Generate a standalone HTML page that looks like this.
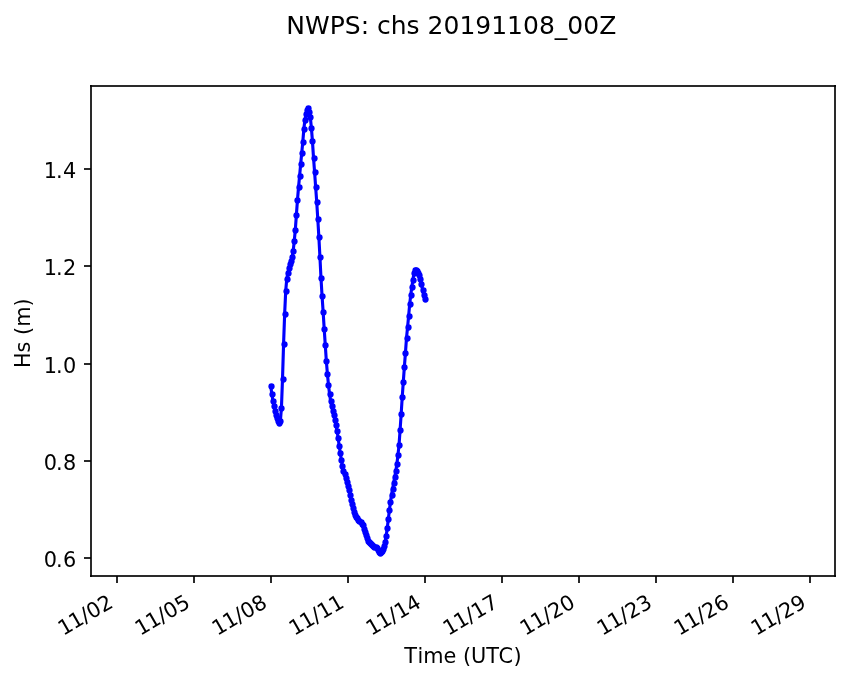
<!DOCTYPE html>
<html lang="en">
<head>
<meta charset="utf-8">
<title>NWPS: chs 20191108_00Z</title>
<style>
html,body{margin:0;padding:0;background:#fff;}
body{width:853px;height:681px;overflow:hidden;}
svg{display:block;will-change:transform;}
text{font-family:"DejaVu Sans","Liberation Sans",sans-serif;fill:#000;}
.t{font-size:20.8333px;}
.ttl{font-size:25px;}
.gp{text-rendering:geometricPrecision;}
.ax{fill:#000;fill-opacity:.835;shape-rendering:crispEdges;}
</style>
</head>
<body>
<svg width="853" height="681" viewBox="0 0 853 681">
<text class="ttl" x="451.3" y="34.0" text-anchor="middle">NWPS: chs 20191108_00Z</text>
<g id="series">
<polyline points="270.75,386.00 271.82,393.90 272.89,400.70 273.96,405.60 275.03,410.50 276.10,414.50 277.17,418.00 278.24,421.00 279.30,423.10 280.37,421.10 281.44,407.90 282.51,378.90 283.58,343.90 284.65,314.00 285.72,290.90 286.79,278.70 287.86,272.90 288.93,268.00 289.99,264.10 291.06,260.60 292.13,256.60 293.20,250.90 294.27,240.90 295.34,229.50 296.41,214.70 297.48,199.80 298.55,187.00 299.61,175.90 300.68,164.00 301.75,152.80 302.82,141.70 303.89,128.50 304.96,119.80 306.03,113.60 307.10,109.50 308.17,108.00 309.24,111.70 310.30,116.80 311.37,127.70 312.44,141.00 313.51,157.70 314.58,171.80 315.65,187.00 316.72,201.90 317.79,219.00 318.86,236.80 319.93,256.90 320.99,278.00 322.06,296.00 323.13,311.60 324.20,328.80 325.27,344.80 326.34,361.00 327.41,373.90 328.48,384.90 329.55,393.90 330.61,400.80 331.68,406.30 332.75,410.90 333.82,415.00 334.89,420.00 335.96,425.10 337.03,431.00 338.10,437.60 339.17,445.70 340.24,452.60 341.30,459.70 342.37,465.70 343.44,470.90 344.51,474.40 345.58,477.80 346.65,481.90 347.72,485.90 348.79,489.90 349.86,494.70 350.93,499.60 351.99,503.60 353.06,507.60 354.13,511.90 355.20,514.90 356.27,516.50 357.34,518.10 358.41,519.60 359.48,520.80 360.55,522.10 361.61,523.50 362.68,525.30 363.75,528.50 364.82,531.70 365.89,534.80 366.96,538.00 368.03,540.70 369.10,541.80 370.17,542.90 371.24,543.80 372.30,544.70 373.37,545.60 374.44,546.50 375.51,547.40 376.58,548.30 377.65,549.70 378.72,551.70 379.79,553.00 380.86,552.40 381.93,551.00 382.99,548.90 384.06,546.00 385.13,541.80 386.20,535.80 387.27,528.00 388.34,519.00 389.41,510.00 390.48,501.80 391.55,494.80 392.61,488.70 393.68,482.70 394.75,476.90 395.82,470.90 396.89,464.00 397.96,454.90 399.03,445.10 400.10,429.90 401.17,414.00 402.24,396.80 403.30,381.80 404.37,366.90 405.44,352.90 406.51,337.80 407.58,327.10 408.65,315.80 409.72,303.90 410.79,294.75 411.86,286.80 412.93,279.70 413.99,272.70 415.06,270.00 416.13,269.90 417.20,270.80 418.27,272.80 419.34,275.40 420.41,279.10 421.48,283.70 422.55,289.70 423.61,294.70 424.68,299.10" fill="none" stroke="#0000ff" stroke-width="3.125" stroke-linejoin="round" stroke-linecap="square"/>
<g fill="#0000ff">
<circle cx="271.5" cy="386.5" r="3.13"/><circle cx="272.5" cy="394.5" r="3.13"/><circle cx="273.5" cy="401.5" r="3.13"/><circle cx="274.5" cy="406.5" r="3.13"/><circle cx="275.5" cy="411.5" r="3.13"/><circle cx="276.5" cy="415.5" r="3.13"/><circle cx="277.5" cy="418.5" r="3.13"/><circle cx="278.5" cy="421.5" r="3.13"/><circle cx="279.5" cy="423.5" r="3.13"/><circle cx="280.5" cy="421.5" r="3.13"/><circle cx="281.5" cy="408.5" r="3.13"/><circle cx="283.5" cy="379.5" r="3.13"/><circle cx="284.5" cy="344.5" r="3.13"/><circle cx="285.5" cy="314.5" r="3.13"/><circle cx="286.5" cy="291.5" r="3.13"/><circle cx="287.5" cy="279.5" r="3.13"/><circle cx="288.5" cy="273.5" r="3.13"/><circle cx="289.5" cy="268.5" r="3.13"/><circle cx="290.5" cy="264.5" r="3.13"/><circle cx="291.5" cy="261.5" r="3.13"/><circle cx="292.5" cy="257.5" r="3.13"/><circle cx="293.5" cy="251.5" r="3.13"/><circle cx="294.5" cy="241.5" r="3.13"/><circle cx="295.5" cy="230.5" r="3.13"/><circle cx="296.5" cy="215.5" r="3.13"/><circle cx="297.5" cy="200.5" r="3.13"/><circle cx="299.5" cy="187.5" r="3.13"/><circle cx="300.5" cy="176.5" r="3.13"/><circle cx="301.5" cy="164.5" r="3.13"/><circle cx="302.5" cy="153.5" r="3.13"/><circle cx="303.5" cy="142.5" r="3.13"/><circle cx="304.5" cy="129.5" r="3.13"/><circle cx="305.5" cy="120.5" r="3.13"/><circle cx="306.5" cy="114.5" r="3.13"/><circle cx="307.5" cy="110.5" r="3.13"/><circle cx="308.5" cy="108.5" r="3.13"/><circle cx="309.5" cy="112.5" r="3.13"/><circle cx="310.5" cy="117.5" r="3.13"/><circle cx="311.5" cy="128.5" r="3.13"/><circle cx="312.5" cy="141.5" r="3.13"/><circle cx="314.5" cy="158.5" r="3.13"/><circle cx="315.5" cy="172.5" r="3.13"/><circle cx="316.5" cy="187.5" r="3.13"/><circle cx="317.5" cy="202.5" r="3.13"/><circle cx="318.5" cy="219.5" r="3.13"/><circle cx="319.5" cy="237.5" r="3.13"/><circle cx="320.5" cy="257.5" r="3.13"/><circle cx="321.5" cy="278.5" r="3.13"/><circle cx="322.5" cy="296.5" r="3.13"/><circle cx="323.5" cy="312.5" r="3.13"/><circle cx="324.5" cy="329.5" r="3.13"/><circle cx="325.5" cy="345.5" r="3.13"/><circle cx="326.5" cy="361.5" r="3.13"/><circle cx="327.5" cy="374.5" r="3.13"/><circle cx="328.5" cy="385.5" r="3.13"/><circle cx="330.5" cy="394.5" r="3.13"/><circle cx="331.5" cy="401.5" r="3.13"/><circle cx="332.5" cy="406.5" r="3.13"/><circle cx="333.5" cy="411.5" r="3.13"/><circle cx="334.5" cy="415.5" r="3.13"/><circle cx="335.5" cy="420.5" r="3.13"/><circle cx="336.5" cy="425.5" r="3.13"/><circle cx="337.5" cy="431.5" r="3.13"/><circle cx="338.5" cy="438.5" r="3.13"/><circle cx="339.5" cy="446.5" r="3.13"/><circle cx="340.5" cy="453.5" r="3.13"/><circle cx="341.5" cy="460.5" r="3.13"/><circle cx="342.5" cy="466.5" r="3.13"/><circle cx="343.5" cy="471.5" r="3.13"/><circle cx="345.5" cy="474.5" r="3.13"/><circle cx="346.5" cy="478.5" r="3.13"/><circle cx="347.5" cy="482.5" r="3.13"/><circle cx="348.5" cy="486.5" r="3.13"/><circle cx="349.5" cy="490.5" r="3.13"/><circle cx="350.5" cy="495.5" r="3.13"/><circle cx="351.5" cy="500.5" r="3.13"/><circle cx="352.5" cy="504.5" r="3.13"/><circle cx="353.5" cy="508.5" r="3.13"/><circle cx="354.5" cy="512.5" r="3.13"/><circle cx="355.5" cy="515.5" r="3.13"/><circle cx="356.5" cy="517.5" r="3.13"/><circle cx="357.5" cy="518.5" r="3.13"/><circle cx="358.5" cy="520.5" r="3.13"/><circle cx="359.5" cy="521.5" r="3.13"/><circle cx="361.5" cy="522.5" r="3.13"/><circle cx="362.5" cy="524.5" r="3.13"/><circle cx="363.5" cy="525.5" r="3.13"/><circle cx="364.5" cy="529.5" r="3.13"/><circle cx="365.5" cy="532.5" r="3.13"/><circle cx="366.5" cy="535.5" r="3.13"/><circle cx="367.5" cy="538.5" r="3.13"/><circle cx="368.5" cy="541.5" r="3.13"/><circle cx="369.5" cy="542.5" r="3.13"/><circle cx="370.5" cy="543.5" r="3.13"/><circle cx="371.5" cy="544.5" r="3.13"/><circle cx="372.5" cy="545.5" r="3.13"/><circle cx="373.5" cy="546.5" r="3.13"/><circle cx="374.5" cy="547.5" r="3.13"/><circle cx="376.5" cy="547.5" r="3.13"/><circle cx="377.5" cy="548.5" r="3.13"/><circle cx="378.5" cy="550.5" r="3.13"/><circle cx="379.5" cy="552.5" r="3.13"/><circle cx="380.5" cy="553.5" r="3.13"/><circle cx="381.5" cy="552.5" r="3.13"/><circle cx="382.5" cy="551.5" r="3.13"/><circle cx="383.5" cy="549.5" r="3.13"/><circle cx="384.5" cy="546.5" r="3.13"/><circle cx="385.5" cy="542.5" r="3.13"/><circle cx="386.5" cy="536.5" r="3.13"/><circle cx="387.5" cy="528.5" r="3.13"/><circle cx="388.5" cy="519.5" r="3.13"/><circle cx="389.5" cy="510.5" r="3.13"/><circle cx="390.5" cy="502.5" r="3.13"/><circle cx="392.5" cy="495.5" r="3.13"/><circle cx="393.5" cy="489.5" r="3.13"/><circle cx="394.5" cy="483.5" r="3.13"/><circle cx="395.5" cy="477.5" r="3.13"/><circle cx="396.5" cy="471.5" r="3.13"/><circle cx="397.5" cy="464.5" r="3.13"/><circle cx="398.5" cy="455.5" r="3.13"/><circle cx="399.5" cy="445.5" r="3.13"/><circle cx="400.5" cy="430.5" r="3.13"/><circle cx="401.5" cy="414.5" r="3.13"/><circle cx="402.5" cy="397.5" r="3.13"/><circle cx="403.5" cy="382.5" r="3.13"/><circle cx="404.5" cy="367.5" r="3.13"/><circle cx="405.5" cy="353.5" r="3.13"/><circle cx="407.5" cy="338.5" r="3.13"/><circle cx="408.5" cy="327.5" r="3.13"/><circle cx="409.5" cy="316.5" r="3.13"/><circle cx="410.5" cy="304.5" r="3.13"/><circle cx="411.5" cy="295.5" r="3.13"/><circle cx="412.5" cy="287.5" r="3.13"/><circle cx="413.5" cy="280.5" r="3.13"/><circle cx="414.5" cy="273.5" r="3.13"/><circle cx="415.5" cy="270.5" r="3.13"/><circle cx="416.5" cy="270.5" r="3.13"/><circle cx="417.5" cy="271.5" r="3.13"/><circle cx="418.5" cy="273.5" r="3.13"/><circle cx="419.5" cy="275.5" r="3.13"/><circle cx="420.5" cy="279.5" r="3.13"/><circle cx="421.5" cy="284.5" r="3.13"/><circle cx="423.5" cy="290.5" r="3.13"/><circle cx="424.5" cy="295.5" r="3.13"/><circle cx="425.5" cy="299.5" r="3.13"/>
</g>
</g>
<g class="ax">
<rect x="90" y="85" width="2" height="492"/>
<rect x="834" y="85" width="2" height="492"/>
<rect x="90" y="85" width="746" height="2"/>
<rect x="90" y="575" width="746" height="2"/>
<rect x="116" y="576" width="2" height="7"/><rect x="193" y="576" width="2" height="7"/><rect x="270" y="576" width="2" height="7"/><rect x="347" y="576" width="2" height="7"/><rect x="424" y="576" width="2" height="7"/><rect x="501" y="576" width="2" height="7"/><rect x="578" y="576" width="2" height="7"/><rect x="655" y="576" width="2" height="7"/><rect x="732" y="576" width="2" height="7"/><rect x="809" y="576" width="2" height="7"/>
<rect x="84" y="168" width="7" height="2"/><rect x="84" y="265" width="7" height="2"/><rect x="84" y="363" width="7" height="2"/><rect x="84" y="460" width="7" height="2"/><rect x="84" y="557" width="7" height="2"/>
</g>
<text class="t" x="75.5" y="178.00" text-anchor="end" dx="0.7 -1.1 0.4">1.4</text>
<text class="t" x="75.5" y="275.00" text-anchor="end" dx="0.7 -1.1 0.4">1.2</text>
<text class="t" x="75.5" y="373.00" text-anchor="end" dx="0.7 -1.1 0.4">1.0</text>
<text class="t" x="75.5" y="470.00" text-anchor="end" dx="0.7 -1.1 0.4">0.8</text>
<text class="t" x="75.5" y="567.00" text-anchor="end" dx="0.7 -1.1 0.4">0.6</text>
<text class="t" transform="translate(113.60,606.80) rotate(-30)" text-anchor="end" dx="0.9 -0.6 -0.3">11/02</text>
<text class="t" transform="translate(190.60,606.80) rotate(-30)" text-anchor="end" dx="0.9 -0.6 -0.3">11/05</text>
<text class="t" transform="translate(267.60,606.80) rotate(-30)" text-anchor="end" dx="0.9 -0.6 -0.3">11/08</text>
<text class="t" transform="translate(344.60,606.80) rotate(-30)" text-anchor="end" dx="0.9 -0.6 -0.3">11/11</text>
<text class="t" transform="translate(421.60,606.80) rotate(-30)" text-anchor="end" dx="0.9 -0.6 -0.3">11/14</text>
<text class="t" transform="translate(498.60,606.80) rotate(-30)" text-anchor="end" dx="0.9 -0.6 -0.3">11/17</text>
<text class="t" transform="translate(575.60,606.80) rotate(-30)" text-anchor="end" dx="0.9 -0.6 -0.3">11/20</text>
<text class="t" transform="translate(652.60,606.80) rotate(-30)" text-anchor="end" dx="0.9 -0.6 -0.3">11/23</text>
<text class="t" transform="translate(729.60,606.80) rotate(-30)" text-anchor="end" dx="0.9 -0.6 -0.3">11/26</text>
<text class="t" transform="translate(806.60,606.80) rotate(-30)" text-anchor="end" dx="0.9 -0.6 -0.3">11/29</text>
<text class="t" x="464.0" y="663.0" text-anchor="middle"><tspan dx="-1">T</tspan><tspan dx="1">ime (UT</tspan><tspan dx="0.8">C</tspan><tspan dx="0.4">)</tspan></text>
<text class="t" transform="translate(29.62,333.27) rotate(-90)" text-anchor="middle">Hs (m)</text>
</svg>
</body>
</html>
